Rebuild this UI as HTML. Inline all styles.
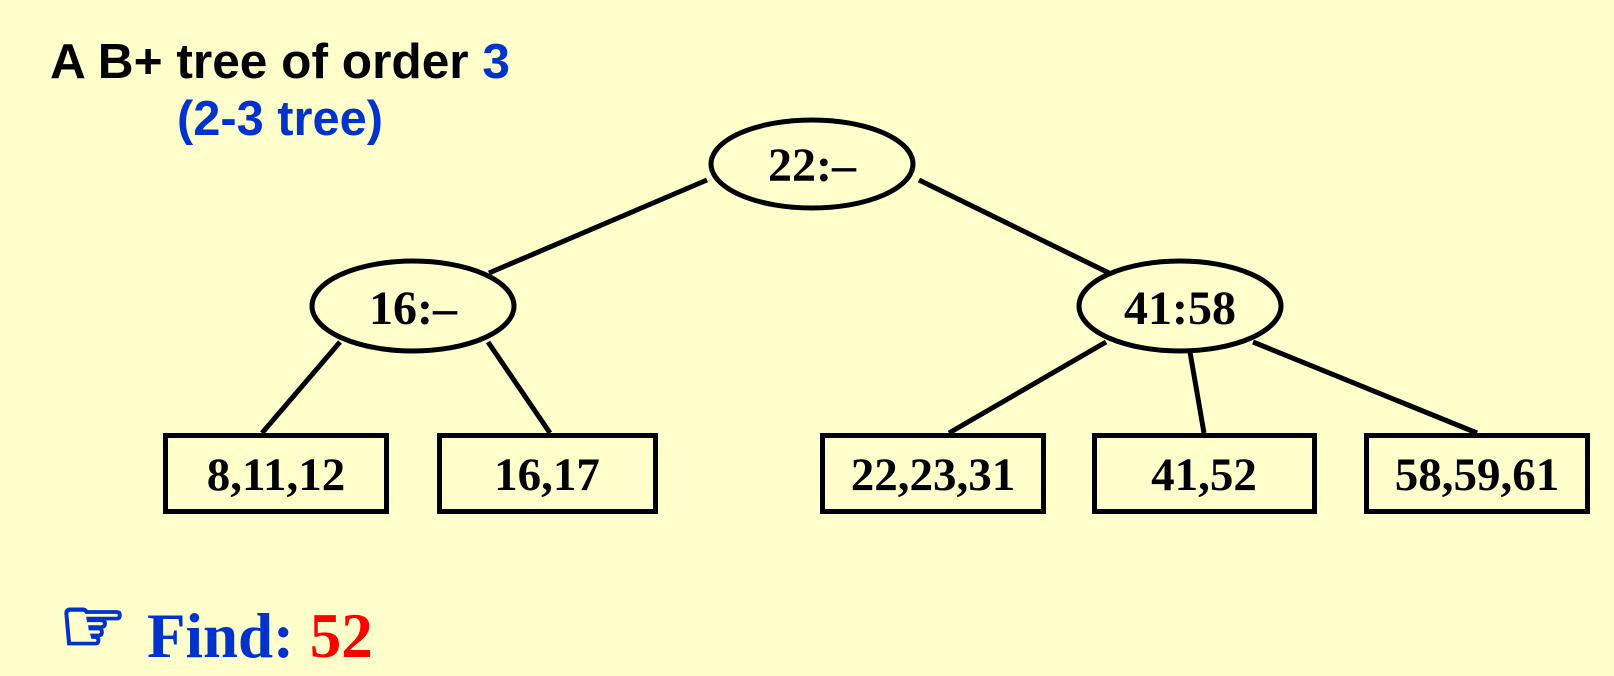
<!DOCTYPE html>
<html><head><meta charset="utf-8"><style>
html,body{margin:0;padding:0;background:#FFFFCC;}
svg{display:block}
</style></head><body>
<svg width="1614" height="676" viewBox="0 0 1614 676" xmlns="http://www.w3.org/2000/svg">
<rect width="1614" height="676" fill="#FFFFCC"/>
<g font-family="Liberation Sans, sans-serif" font-weight="bold" font-size="49">
<text x="50" y="78" textLength="460" lengthAdjust="spacingAndGlyphs"><tspan fill="#000">A B+ tree of order </tspan><tspan fill="#0033CC">3</tspan></text>
<text x="177" y="135" fill="#0033CC" textLength="206" lengthAdjust="spacingAndGlyphs">(2-3 tree)</text>
</g>
<g stroke="#000" stroke-width="5" fill="none">
<line x1="707" y1="180" x2="489" y2="273"/>
<line x1="919" y1="180" x2="1109" y2="273"/>
<line x1="340" y1="342" x2="262" y2="433"/>
<line x1="488" y1="342" x2="550" y2="433"/>
<line x1="1106" y1="342" x2="949" y2="433"/>
<line x1="1190" y1="352" x2="1204" y2="433"/>
<line x1="1253" y1="342" x2="1477" y2="433"/>
<ellipse cx="812" cy="164" rx="101" ry="44" fill="#FFFFCC"/>
<ellipse cx="413" cy="306" rx="101" ry="45" fill="#FFFFCC"/>
<ellipse cx="1180" cy="306" rx="101" ry="45" fill="#FFFFCC"/>
<rect x="165.5" y="435.5" width="221" height="76" fill="#FFFFCC"/>
<rect x="439.5" y="435.5" width="216" height="76" fill="#FFFFCC"/>
<rect x="822.5" y="435.5" width="221" height="76" fill="#FFFFCC"/>
<rect x="1094.5" y="435.5" width="220" height="76" fill="#FFFFCC"/>
<rect x="1366.5" y="435.5" width="221" height="76" fill="#FFFFCC"/>
</g>
<g font-family="Liberation Serif, serif" font-weight="bold" font-size="48" fill="#000" text-anchor="middle">
<text x="812" y="181">22:–</text>
<text x="413" y="324">16:–</text>
<text x="1180" y="324">41:58</text>
</g>
<g font-family="Liberation Serif, serif" font-weight="bold" font-size="47" fill="#000" text-anchor="middle">
<text x="276" y="490">8,11,12</text>
<text x="547" y="490">16,17</text>
<text x="933" y="490">22,23,31</text>
<text x="1204" y="490">41,52</text>
<text x="1477" y="490">58,59,61</text>
</g>
<text x="59" y="652" font-family="DejaVu Sans, sans-serif" font-size="76" fill="#FFFFCC" stroke="#0033CC" stroke-width="2.5">☞</text>
<text x="147" y="657" font-family="Liberation Serif, serif" font-weight="bold" font-size="63"><tspan fill="#0033CC">Find: </tspan><tspan fill="#FF0000">52</tspan></text>
</svg>
</body></html>
